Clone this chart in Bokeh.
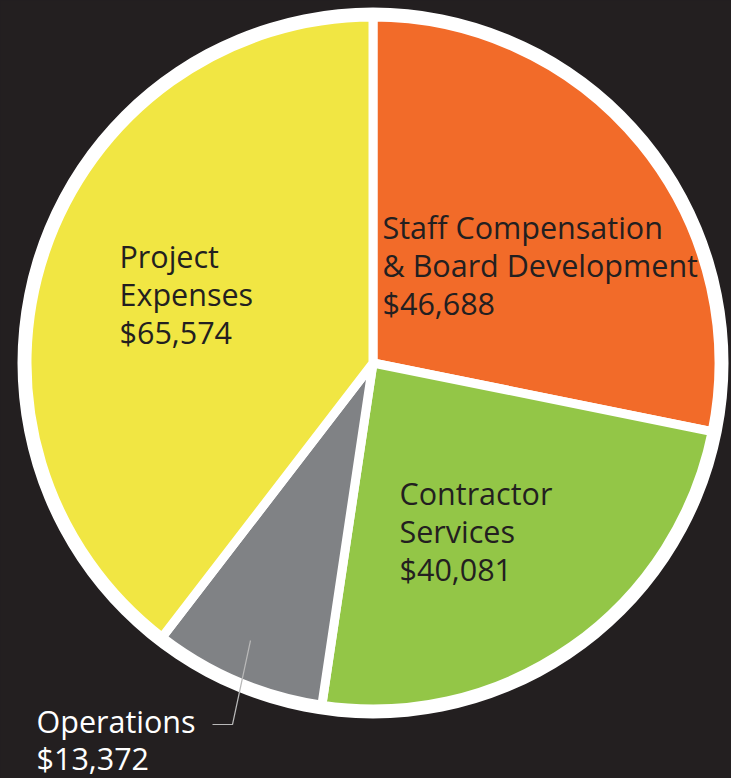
import math
from bokeh.plotting import figure
from bokeh.models import Range1d, ColumnDataSource, GlobalInlineStyleSheet
from bokeh.core.properties import value
from bokeh.embed import file_html
from bokeh.resources import INLINE

# ---- data ----
categories = ["Staff Compensation & Board Development", "Contractor Services", "Operations", "Project Expenses"]
amounts = [46688, 40081, 13372, 65574]
label_lines = [["Staff Compensation", "& Board Development"], ["Contractor", "Services"], ["Operations"], ["Project", "Expenses"]]
colors = ["#f26b29", "#93c647", "#808285", "#f1e643"]

BG = "#231f20"
W, H = 731, 778

def sx(x):  # screen x -> data
    return x

def sy(y):  # screen y -> data
    return H - y

p = figure(width=W, height=H, output_backend="svg", toolbar_location=None,
           x_range=Range1d(0, W), y_range=Range1d(0, H),
           x_axis_type=None, y_axis_type=None, min_border=0)
p.grid.visible = False
p.outline_line_color = None
p.background_fill_color = BG
p.border_fill_color = BG
p.stylesheets.append(GlobalInlineStyleSheet(css="html, body { background: #231f20; margin: 0; }"))

cx, cy = sx(372.5), sy(362.5)
R_outer, R = 355.5, 346

total = float(sum(amounts))
starts, ends = [], []
a = math.pi / 2
for v in amounts:
    starts.append(a)
    a -= v / total * 2 * math.pi
    ends.append(a)

p.circle(x=[cx], y=[cy], radius=R_outer, fill_color="white", line_color=None)
src = ColumnDataSource(dict(start=starts, end=ends, color=colors, cat=categories, amt=amounts))
p.wedge(x=cx, y=cy, radius=R, start_angle="end", end_angle="start", direction="anticlock",
        fill_color="color", line_color="white", line_width=9, source=src)

# label anchors (screen coords of first line's centre-left), line heights and colours
anchors = {0: (382, 226), 1: (399, 492), 2: (36, 720), 3: (119, 255)}
line_h = {0: 38, 1: 38, 2: 37, 3: 38}
text_colors = {0: BG, 1: BG, 2: "white", 3: BG}

tx, ty, tt, tc = [], [], [], []
for i, lines in enumerate(label_lines):
    x0, y0 = anchors[i]
    allines = lines + ["${:,}".format(amounts[i])]
    for k, line in enumerate(allines):
        tx.append(sx(x0)); ty.append(sy(y0 + k * line_h[i])); tt.append(line); tc.append(text_colors[i])

p.text(x=tx, y=ty, text=tt, text_color=tc, text_font=value("Open Sans"), text_font_size="30.5px",
       text_align="left", text_baseline="middle")

# leader line for Operations
p.line(x=[sx(212), sx(232), sx(250)], y=[sy(724), sy(724), sy(640)], line_color="#b8b8b8", line_width=1.2)

open("out.html", "w").write(file_html(p, INLINE))
